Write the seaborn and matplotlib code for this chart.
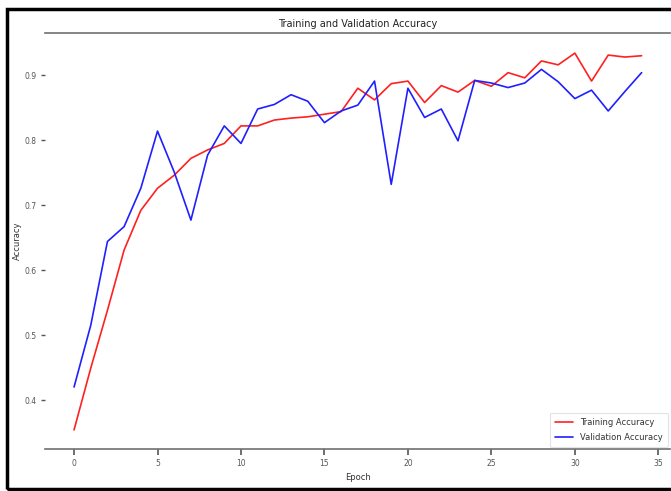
import numpy as np
import pandas as pd
import matplotlib
matplotlib.use("Agg")
import matplotlib.pyplot as plt
import seaborn as sns
from matplotlib.patches import Rectangle

epochs = list(range(35))
train_acc = [0.354, 0.449, 0.538, 0.631, 0.692, 0.726, 0.746, 0.772, 0.785, 0.795,
             0.822, 0.822, 0.831, 0.834, 0.836, 0.840, 0.844, 0.880, 0.862, 0.887,
             0.891, 0.858, 0.884, 0.874, 0.892, 0.883, 0.904, 0.896, 0.922, 0.916,
             0.934, 0.891, 0.931, 0.928, 0.930]
val_acc = [0.420, 0.515, 0.644, 0.667, 0.726, 0.814, 0.751, 0.677, 0.777, 0.822,
           0.795, 0.848, 0.855, 0.870, 0.860, 0.827, 0.845, 0.854, 0.891, 0.732,
           0.880, 0.835, 0.848, 0.799, 0.892, 0.888, 0.881, 0.888, 0.909, 0.890,
           0.864, 0.877, 0.845, 0.875, 0.904]
series_names = ["Training Accuracy", "Validation Accuracy"]
title = "Training and Validation Accuracy"
x_label = "Epoch"
y_label = "Accuracy"
x_ticks = [0, 5, 10, 15, 20, 25, 30, 35]
y_ticks = [0.4, 0.5, 0.6, 0.7, 0.8, 0.9]

df = pd.DataFrame({
    "Epoch": epochs * 2,
    "Accuracy": train_acc + val_acc,
    "Series": [series_names[0]] * len(epochs) + [series_names[1]] * len(epochs),
})

sns.set_theme(style="white")
plt.rcParams['font.family'] = ['DejaVu Sans']

fig = plt.figure(figsize=(6.71, 4.91), dpi=100)
ax = fig.add_axes([45 / 671, (491 - 449) / 491, (670 - 45) / 671, (449 - 33) / 491])

sns.lineplot(data=df, x="Epoch", y="Accuracy", hue="Series",
             palette={series_names[0]: "#ff2020", series_names[1]: "#2020ff"},
             linewidth=1.2, ax=ax)

ax.set_xlim(-1.74, 35.7)
ax.set_ylim(0.3246, 0.965)
ax.set_xticks(x_ticks)
ax.set_yticks(y_ticks)
ax.set_xticklabels([str(t) for t in x_ticks])
ax.set_yticklabels([f"{t:.1f}" for t in y_ticks])
ax.tick_params(axis="both", which="both", direction="out", length=3, width=1,
               labelsize=5.5, colors="#555555", pad=3,
               bottom=True, left=True, top=False, right=False)
ax.tick_params(axis="x", length=4, width=1.2)

for side in ["left", "right"]:
    ax.spines[side].set_visible(False)
for side in ["top", "bottom"]:
    ax.spines[side].set_visible(True)
    ax.spines[side].set_color("#707070")
    ax.spines[side].set_linewidth(1.2)

ax.set_title(title, fontsize=7, color="#222222", pad=4)
ax.set_xlabel(x_label, fontsize=6, color="#333333", labelpad=4)
ax.set_ylabel(y_label, fontsize=6, color="#333333", labelpad=2)

leg = ax.legend(loc="lower right", fontsize=6, frameon=True, handlelength=2.2,
                borderaxespad=0.3, labelspacing=0.7, borderpad=0.6)
leg.get_frame().set_edgecolor("#dddddd")
leg.get_frame().set_linewidth(0.8)
for t in leg.get_texts():
    t.set_color("#333333")

fig.patches.append(Rectangle((7 / 671, (491 - 489) / 491), 1.1, (489 - 8.5) / 491,
                             transform=fig.transFigure, fill=False, clip_on=False,
                             edgecolor="black", linewidth=2.5, zorder=10))

fig.savefig("out.png", dpi=100)
